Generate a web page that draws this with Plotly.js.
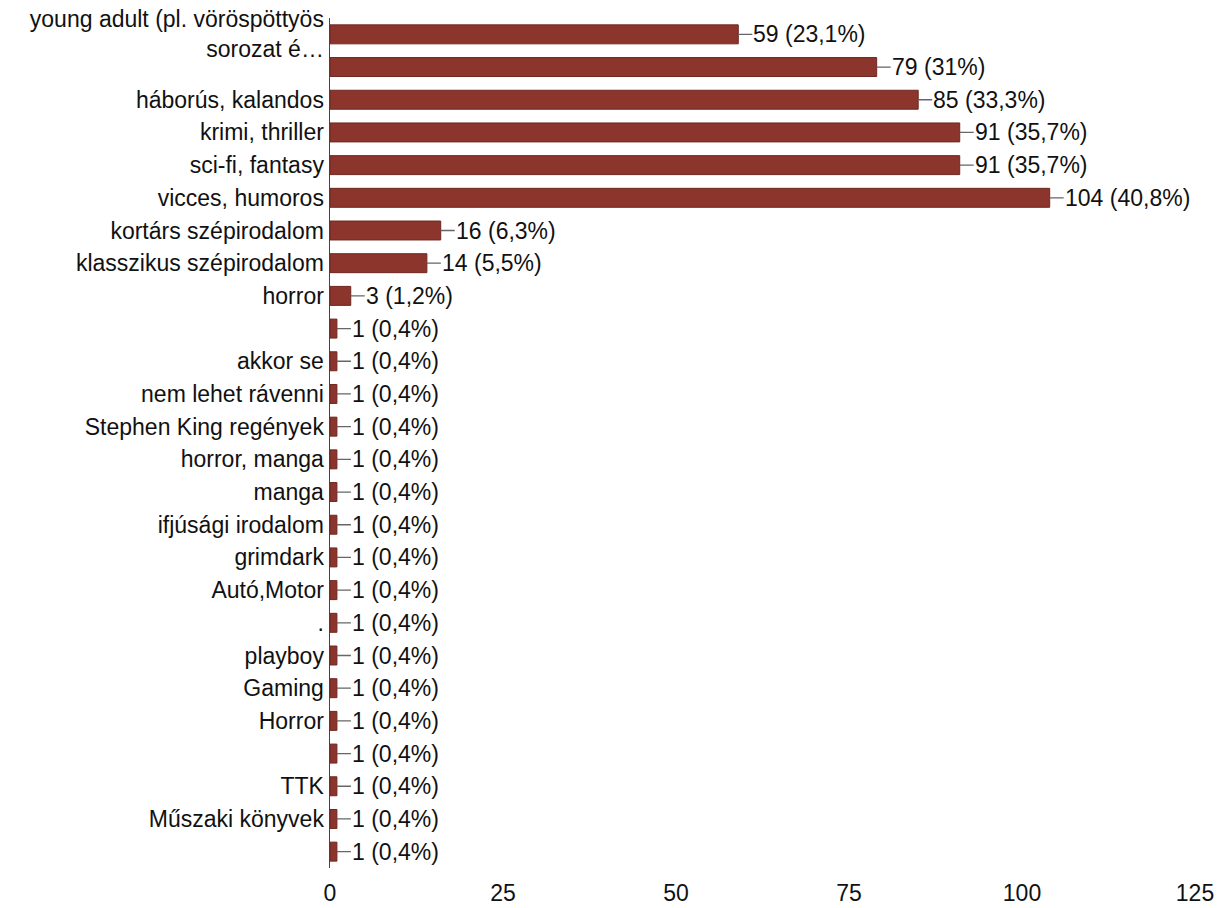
<!DOCTYPE html>
<html>
<head>
<meta charset="utf-8">
<script src="https://cdn.plot.ly/plotly-3.0.1.min.js"></script>
<style>html,body{margin:0;padding:0;background:#fff;}#chart{width:1227px;height:908px;}</style>
</head>
<body>
<div id="chart"></div>
<script>
var categories = [
  "young adult (pl. vöröspöttyös<br>sorozat é…",
  "",
  "háborús, kalandos",
  "krimi, thriller",
  "sci-fi, fantasy",
  "vicces, humoros",
  "kortárs szépirodalom",
  "klasszikus szépirodalom",
  "horror",
  "",
  "akkor se",
  "nem lehet rávenni",
  "Stephen King regények",
  "horror, manga",
  "manga",
  "ifjúsági irodalom",
  "grimdark",
  "Autó,Motor",
  ".",
  "playboy",
  "Gaming",
  "Horror",
  "",
  "TTK",
  "Műszaki könyvek",
  ""
];
var counts = [59, 79, 85, 91, 91, 104, 16, 14, 3, 1, 1, 1, 1, 1, 1, 1, 1, 1, 1, 1, 1, 1, 1, 1, 1, 1];
var percents = ["23,1", "31", "33,3", "35,7", "35,7", "40,8", "6,3", "5,5", "1,2",
  "0,4", "0,4", "0,4", "0,4", "0,4", "0,4", "0,4", "0,4", "0,4", "0,4", "0,4", "0,4", "0,4", "0,4", "0,4", "0,4", "0,4"];
var xTicks = [0, 25, 50, 75, 100, 125];

var idx = categories.map(function (c, i) { return i; });
var font = "Liberation Sans, Arial, sans-serif";

var trace = {
  type: "bar",
  orientation: "h",
  x: counts,
  y: idx,
  marker: { color: "#8b352c", line: { color: "#6e2820", width: 1 } },
  hoverinfo: "none"
};

var annotations = counts.map(function (v, i) {
  return {
    x: v, y: i, xref: "x", yref: "y",
    text: v + " (" + percents[i] + "%)",
    showarrow: true, arrowhead: 0, arrowwidth: 1.3, arrowcolor: "#666",
    ax: 14, ay: 0, xanchor: "left", standoff: 0, borderpad: 0,
    font: { family: font, size: 23, color: "#111" }
  };
});

var layout = {
  width: 1227, height: 908,
  margin: { l: 330, r: 32, t: 18, b: 40 },
  paper_bgcolor: "#fff", plot_bgcolor: "#fff",
  showlegend: false,
  bargap: 0.42,
  font: { family: font, size: 23, color: "#111" },
  xaxis: {
    range: [0, 125], tickvals: xTicks, ticktext: xTicks.map(String),
    showgrid: false, zeroline: false, showline: false, ticks: "",
    ticklabelstandoff: 9,
    tickfont: { family: font, size: 23, color: "#111" }
  },
  yaxis: {
    range: [25.5, -0.5], tickvals: idx, ticktext: categories,
    showgrid: false, zeroline: false, showline: true, linecolor: "#444", linewidth: 1.5,
    ticks: "", ticklabelstandoff: 0,
    tickfont: { family: font, size: 23, color: "#111" }
  },
  annotations: annotations
};

Plotly.newPlot("chart", [trace], layout, { staticPlot: true, displayModeBar: false });
</script>
</body>
</html>
